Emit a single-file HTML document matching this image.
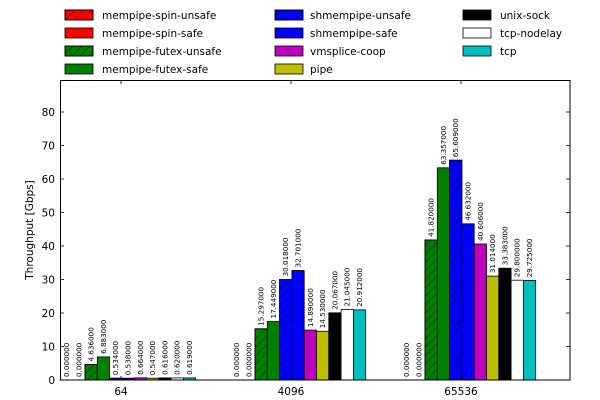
<!DOCTYPE html>
<html><head><meta charset="utf-8"><style>
html,body{margin:0;padding:0;background:#fff;}
svg{display:block;font-family:"DejaVu Sans","Liberation Sans",sans-serif;}
.v{font-size:7.2px;fill:#000;}
.t{font-size:10.5px;fill:#000;}
</style></head><body>
<svg width="600" height="400" viewBox="0 0 600 400" xmlns="http://www.w3.org/2000/svg">
<defs>
<pattern id="h" width="6" height="6" patternUnits="userSpaceOnUse" patternTransform="rotate(45)">
<line x1="0" y1="0" x2="0" y2="6" stroke="#000" stroke-width="0.8"/>
</pattern>
</defs>
<rect width="600" height="400" fill="#fff"/>
<g stroke="#000" stroke-width="0.8">
<rect x="65" y="10" width="28" height="10" fill="#f00"/><rect x="65" y="10" width="28" height="10" fill="url(#h)"/>
<rect x="65" y="28" width="28" height="10" fill="#f00"/>
<rect x="65" y="46" width="28" height="10" fill="#008000"/><rect x="65" y="46" width="28" height="10" fill="url(#h)"/>
<rect x="65" y="64" width="28" height="10" fill="#008000"/>
<rect x="275" y="10" width="28" height="10" fill="#00f"/><rect x="275" y="10" width="28" height="10" fill="url(#h)"/>
<rect x="275" y="28" width="28" height="10" fill="#00f"/>
<rect x="275" y="46" width="28" height="10" fill="#bf00bf"/>
<rect x="275" y="64" width="28" height="10" fill="#bfbf00"/>
<rect x="463" y="10" width="28" height="10" fill="#000"/>
<rect x="463" y="28" width="28" height="10" fill="#fff"/>
<rect x="463" y="46" width="28" height="10" fill="#00bfbf"/>
</g>
<text class="t" x="102" y="19">mempipe-spin-unsafe</text>
<text class="t" x="102" y="37">mempipe-spin-safe</text>
<text class="t" x="102" y="55">mempipe-futex-unsafe</text>
<text class="t" x="102" y="73">mempipe-futex-safe</text>
<text class="t" x="310" y="19">shmempipe-unsafe</text>
<text class="t" x="310" y="37">shmempipe-safe</text>
<text class="t" x="310" y="55">vmsplice-coop</text>
<text class="t" x="310" y="73">pipe</text>
<text class="t" x="500" y="19">unix-sock</text>
<text class="t" x="500" y="37">tcp-nodelay</text>
<text class="t" x="500" y="55">tcp</text>

<g stroke="#000" stroke-width="0.8">
<rect x="85" y="364.5" width="12.3" height="15.5" fill="#008000"/><rect x="85" y="364.5" width="12.3" height="15.5" fill="url(#h)"/>
<rect x="97.3" y="356.9" width="12.3" height="23.1" fill="#008000"/>
<rect x="109.6" y="378.2" width="12.3" height="1.8" fill="#00f"/><rect x="109.6" y="378.2" width="12.3" height="1.8" fill="url(#h)"/>
<rect x="121.9" y="378.2" width="12.3" height="1.8" fill="#00f"/>
<rect x="134.2" y="377.8" width="12.3" height="2.2" fill="#bf00bf"/>
<rect x="146.5" y="378.2" width="12.3" height="1.8" fill="#bfbf00"/>
<rect x="158.8" y="377.9" width="12.3" height="2.1" fill="#000"/>
<rect x="171.1" y="377.9" width="12.3" height="2.1" fill="#fff"/>
<rect x="183.4" y="377.9" width="12.3" height="2.1" fill="#00bfbf"/>
<rect x="255" y="328.8" width="12.3" height="51.2" fill="#008000"/><rect x="255" y="328.8" width="12.3" height="51.2" fill="url(#h)"/>
<rect x="267.3" y="321.5" width="12.3" height="58.5" fill="#008000"/>
<rect x="279.6" y="279.4" width="12.3" height="100.6" fill="#00f"/><rect x="279.6" y="279.4" width="12.3" height="100.6" fill="url(#h)"/>
<rect x="291.9" y="270.5" width="12.3" height="109.5" fill="#00f"/>
<rect x="304.2" y="330.1" width="12.3" height="49.9" fill="#bf00bf"/>
<rect x="316.5" y="331.3" width="12.3" height="48.7" fill="#bfbf00"/>
<rect x="328.8" y="312.8" width="12.3" height="67.2" fill="#000"/>
<rect x="341.1" y="309.5" width="12.3" height="70.5" fill="#fff"/>
<rect x="353.4" y="309.9" width="12.3" height="70.1" fill="#00bfbf"/>
<rect x="425" y="239.9" width="12.3" height="140.1" fill="#008000"/><rect x="425" y="239.9" width="12.3" height="140.1" fill="url(#h)"/>
<rect x="437.3" y="167.8" width="12.3" height="212.2" fill="#008000"/>
<rect x="449.6" y="160.2" width="12.3" height="219.8" fill="#00f"/><rect x="449.6" y="160.2" width="12.3" height="219.8" fill="url(#h)"/>
<rect x="461.9" y="223.8" width="12.3" height="156.2" fill="#00f"/>
<rect x="474.2" y="244" width="12.3" height="136" fill="#bf00bf"/>
<rect x="486.5" y="276.1" width="12.3" height="103.9" fill="#bfbf00"/>
<rect x="498.8" y="268.2" width="12.3" height="111.8" fill="#000"/>
<rect x="511.1" y="280.2" width="12.3" height="99.8" fill="#fff"/>
<rect x="523.4" y="280.4" width="12.3" height="99.6" fill="#00bfbf"/>
</g>

<g class="v">
<text transform="translate(69,377) rotate(-90)">0.000000</text>
<text transform="translate(81.3,377) rotate(-90)">0.000000</text>
<text transform="translate(93.6,361.5) rotate(-90)">4.636000</text>
<text transform="translate(105.9,353.9) rotate(-90)">6.883000</text>
<text transform="translate(118.2,375.2) rotate(-90)">0.534000</text>
<text transform="translate(130.5,375.2) rotate(-90)">0.538000</text>
<text transform="translate(142.8,374.8) rotate(-90)">0.664000</text>
<text transform="translate(155.1,375.2) rotate(-90)">0.547000</text>
<text transform="translate(167.4,374.9) rotate(-90)">0.616000</text>
<text transform="translate(179.7,374.9) rotate(-90)">0.620000</text>
<text transform="translate(192,374.9) rotate(-90)">0.619000</text>

<text transform="translate(239,377) rotate(-90)">0.000000</text>
<text transform="translate(251.3,377) rotate(-90)">0.000000</text>
<text transform="translate(263.6,325.8) rotate(-90)">15.297000</text>
<text transform="translate(275.9,318.5) rotate(-90)">17.449000</text>
<text transform="translate(288.2,276.4) rotate(-90)">30.018000</text>
<text transform="translate(300.5,267.5) rotate(-90)">32.701000</text>
<text transform="translate(312.8,327.1) rotate(-90)">14.890000</text>
<text transform="translate(325.1,328.3) rotate(-90)">14.530000</text>
<text transform="translate(337.4,309.8) rotate(-90)">20.067000</text>
<text transform="translate(349.7,306.5) rotate(-90)">21.045000</text>
<text transform="translate(362,306.9) rotate(-90)">20.912000</text>

<text transform="translate(409,377) rotate(-90)">0.000000</text>
<text transform="translate(421.3,377) rotate(-90)">0.000000</text>
<text transform="translate(433.6,236.9) rotate(-90)">41.820000</text>
<text transform="translate(445.9,164.8) rotate(-90)">63.357000</text>
<text transform="translate(458.2,157.2) rotate(-90)">65.609000</text>
<text transform="translate(470.5,220.8) rotate(-90)">46.632000</text>
<text transform="translate(482.8,241) rotate(-90)">40.606000</text>
<text transform="translate(495.1,273.1) rotate(-90)">31.014000</text>
<text transform="translate(507.4,265.2) rotate(-90)">33.383000</text>
<text transform="translate(519.7,277.2) rotate(-90)">29.800000</text>
<text transform="translate(532,277.4) rotate(-90)">29.725000</text>
</g>

<rect x="60.5" y="80.5" width="509.5" height="299.5" fill="none" stroke="#000" stroke-width="1"/>
<g stroke="#000" stroke-width="0.8">
<line x1="60" y1="380" x2="64" y2="380"/><line x1="570" y1="380" x2="566" y2="380"/>
<line x1="60" y1="346.5" x2="64" y2="346.5"/><line x1="570" y1="346.5" x2="566" y2="346.5"/>
<line x1="60" y1="313" x2="64" y2="313"/><line x1="570" y1="313" x2="566" y2="313"/>
<line x1="60" y1="279.5" x2="64" y2="279.5"/><line x1="570" y1="279.5" x2="566" y2="279.5"/>
<line x1="60" y1="246" x2="64" y2="246"/><line x1="570" y1="246" x2="566" y2="246"/>
<line x1="60" y1="212.5" x2="64" y2="212.5"/><line x1="570" y1="212.5" x2="566" y2="212.5"/>
<line x1="60" y1="179" x2="64" y2="179"/><line x1="570" y1="179" x2="566" y2="179"/>
<line x1="60" y1="145.5" x2="64" y2="145.5"/><line x1="570" y1="145.5" x2="566" y2="145.5"/>
<line x1="60" y1="112" x2="64" y2="112"/><line x1="570" y1="112" x2="566" y2="112"/>
<line x1="121" y1="380" x2="121" y2="376"/><line x1="121" y1="80" x2="121" y2="84"/>
<line x1="291" y1="380" x2="291" y2="376"/><line x1="291" y1="80" x2="291" y2="84"/>
<line x1="461" y1="380" x2="461" y2="376"/><line x1="461" y1="80" x2="461" y2="84"/>
</g>
<g class="t" text-anchor="end">
<text x="55" y="384">0</text>
<text x="55" y="350.5">10</text>
<text x="55" y="317">20</text>
<text x="55" y="283.5">30</text>
<text x="55" y="250">40</text>
<text x="55" y="216.5">50</text>
<text x="55" y="183">60</text>
<text x="55" y="149.5">70</text>
<text x="55" y="116">80</text>
</g>
<g class="t" text-anchor="middle">
<text x="121" y="395">64</text>
<text x="291" y="395">4096</text>
<text x="461" y="395">65536</text>
</g>
<text class="t" text-anchor="middle" transform="translate(33,230) rotate(-90)">Throughput [Gbps]</text>
</svg>
</body></html>
